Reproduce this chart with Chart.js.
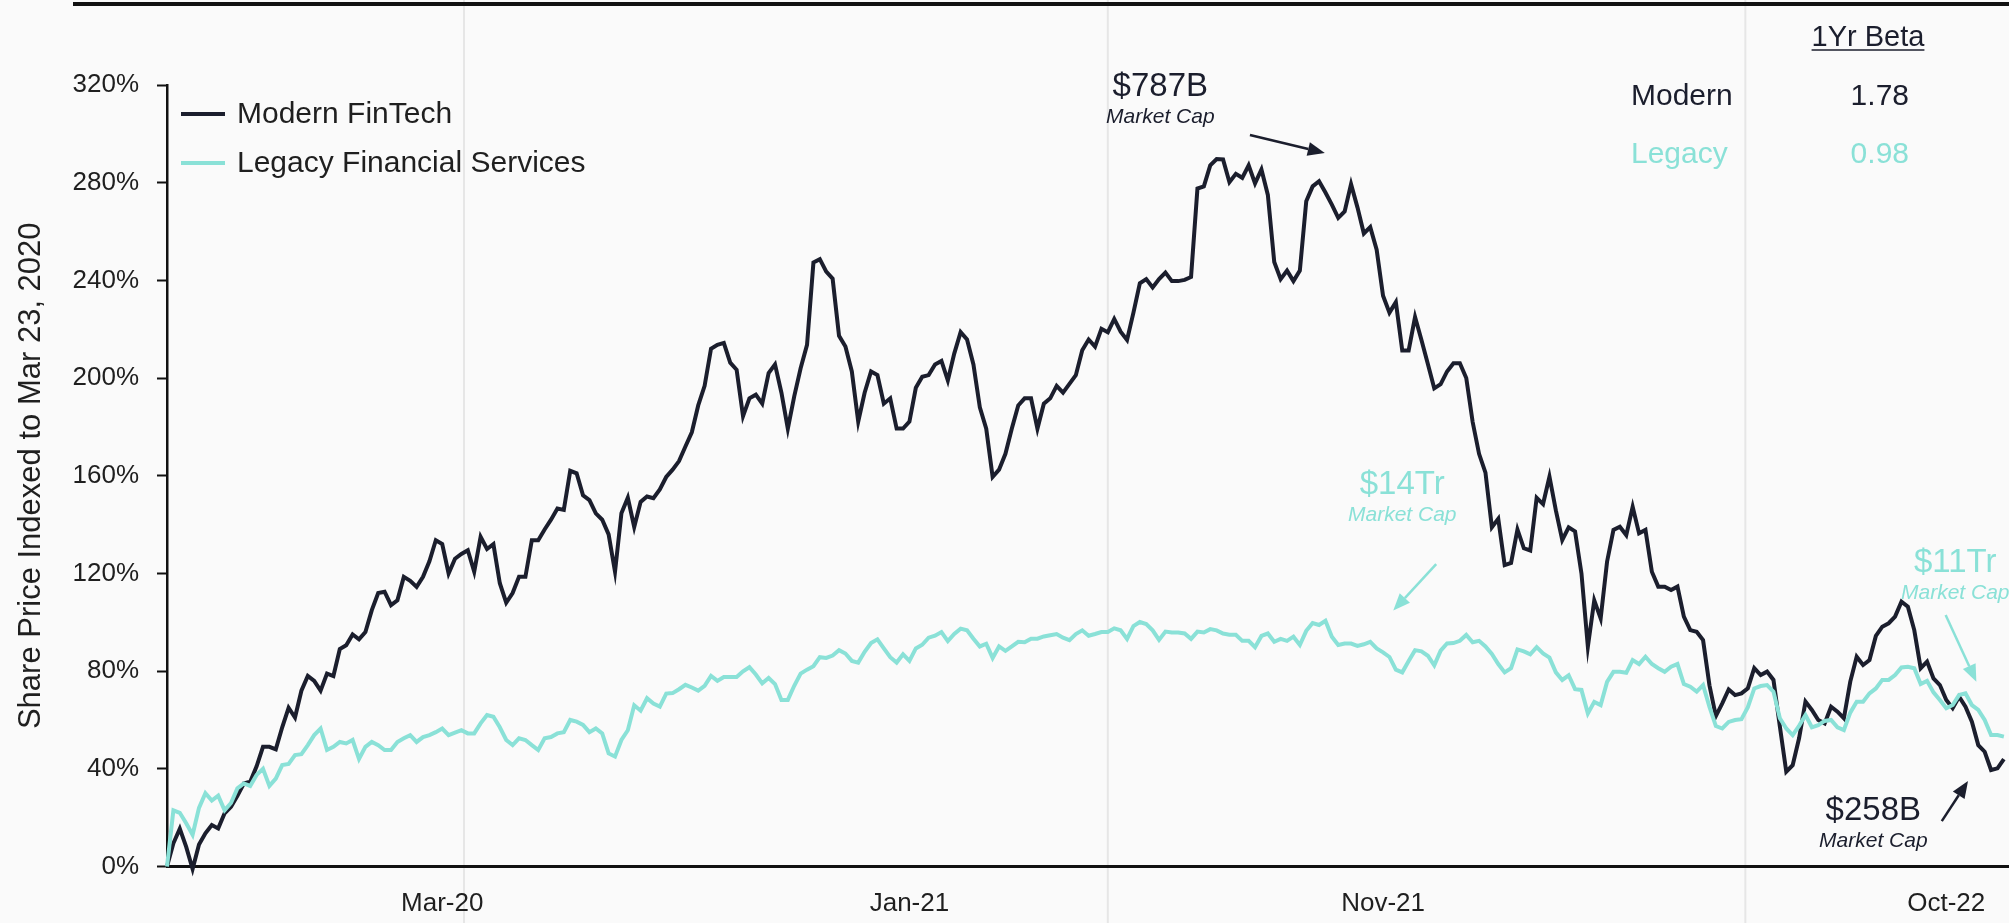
<!DOCTYPE html>
<html>
<head>
<meta charset="utf-8">
<title>Modern FinTech vs Legacy Financial Services</title>
<script src="https://cdn.jsdelivr.net/npm/chart.js@4.4.0/dist/chart.umd.min.js"></script>
<style>
    html, body { margin: 0; padding: 0; background: #fafafa; }
    #wrap { width: 2009px; height: 923px; position: relative; }
</style>
</head>
<body>
<div id="wrap"><canvas id="perfChart"></canvas></div>
<script>
// ================================================================
// DATA (share price indexed to Mar 23, 2020, in %)
// ================================================================

const MODERN_FINTECH = [
    0, 9.5, 15.5, 8, -1, 9, 13.6, 17, 15.6, 21.8,
    24.5, 29, 34, 34.7, 41, 49, 49, 48, 57, 65,
    61, 72, 78, 76, 72, 79, 78, 89, 90.6, 95,
    93, 96, 105, 112, 112.5, 107, 109, 118.6, 117, 114.5,
    118.6, 125, 133.6, 132, 120, 126, 128, 129.5, 120.7, 135,
    130, 132, 116, 108, 112, 118.6, 118.6, 133.6, 133.6, 138,
    142, 146.6, 146, 162, 161, 152, 150, 144.6, 142, 136,
    120.7, 144.6, 151, 139, 149.3, 151.5, 150.8, 154.4, 159.5, 162.5,
    166, 172, 177.8, 188.8, 196.8, 212, 213.6, 214.4, 206.3, 203.4,
    184.4, 191.7, 193.2, 189.5, 202, 205.6, 194, 179.3, 192.5, 204,
    213.6, 247.3, 248.7, 243.6, 240.7, 217.3, 212.9, 202.7, 182.2, 194,
    202.7, 201.2, 189.5, 191.7, 179.3, 179.3, 182.2, 196, 200.5, 201.2,
    205.6, 207, 199, 210, 218.8, 215.8, 205.6, 188, 179.3, 159.5,
    162.5, 169, 179.3, 188.8, 191.7, 191.7, 179.3, 189.5, 191.7, 196.8,
    194, 197.6, 201.2, 211.4, 215.8, 212.9, 220.2, 218.8, 224.2, 219,
    215.6, 226.8, 238.8, 240.5, 237.1, 240.5, 243.2, 239.7, 239.7, 240.2,
    241.4, 277.6, 278.5, 287.1, 289.7, 289.5, 280.2, 283.6, 282, 287.1,
    279.7, 285.4, 275, 247.5, 240.5, 244, 239.7, 244, 272.4, 278.5,
    280.6, 276, 271, 265.6, 268.2, 279.4, 269.9, 259.2, 261.8, 252.6,
    233.7, 226.8, 231.1, 211.3, 211.3, 225, 215.6, 205.8, 195.8, 197.5,
    202.7, 206.1, 206.1, 200, 182, 169, 161.3, 138.9, 142.4, 123.4,
    124.3, 138, 130.3, 129.4, 151, 148.4, 159.6, 145.8, 133.7, 138.9,
    137.2, 120, 90, 109, 101.6, 124.8, 137.8, 139.1, 135.7, 147.3,
    136.4, 137.8, 120.7, 114.6, 114.6, 113.2, 114.6, 102.3, 96.8, 96.1,
    92.7, 74.2, 61.6, 66.8, 72.5, 70.2, 70.9, 73, 81.2, 78.4,
    79.8, 76.4, 57.3, 38.8, 41.5, 52.5, 67.5, 64.1, 60, 58.6,
    65.4, 63.4, 60.7, 75.7, 85.9, 82.5, 84.5, 94.4, 98.2, 99.6,
    102.3, 108.4, 106.4, 96.8, 81.2, 83.9, 77, 74.3, 68.2, 64.8,
    69.5, 65.4, 59.3, 49.7, 47, 39.5, 40.2, 44
];

const LEGACY_FINSERV = [
    0, 23, 22, 17.7, 13, 24, 30, 27, 29, 23,
    26, 32, 34, 33, 37.5, 40, 33, 36, 41.5, 42,
    45.6, 46, 49.7, 53.8, 56.5, 47.7, 49, 51, 50.4, 51.8,
    44, 49, 51, 49.7, 47.7, 47.7, 51, 52.5, 53.8, 51,
    53, 53.8, 55, 56.5, 53.8, 54.8, 55.8, 54.5, 54.5, 58.6,
    62, 61.3, 57, 51.8, 49.7, 52.5, 51.8, 49.7, 47.7, 52.5,
    53, 54.5, 55, 60, 59.3, 58, 55, 56.5, 54.5, 46.3,
    45, 51.8, 55.8, 66, 63.8, 68.9, 66.7, 65.5, 70.8, 71,
    72.6, 74.4, 73.3, 72, 74, 78, 76, 77.6, 77.6, 77.6,
    79.9, 81.6, 78.6, 75, 77.2, 74.7, 68.2, 68.2, 74, 79,
    80.6, 82, 85.7, 85.4, 86.4, 88.6, 87.2, 84.2, 83.5, 87.9,
    91.5, 93, 89.3, 85.7, 83.5, 86.9, 84.2, 89.3, 90.8, 93.7,
    94.5, 96, 92.3, 95.2, 97.4, 96.7, 93.3, 90.1, 91.2, 85.4,
    90.1, 88.3, 90.1, 92, 91.8, 93.3, 93.3, 94.2, 94.7, 95.2,
    93.7, 92.7, 95.2, 96.7, 94.5, 95.2, 96, 96, 97.5, 96.7,
    93.2, 98.4, 100.1, 99.3, 96.7, 92.8, 96.2, 95.8, 95.8, 95.4,
    93.2, 96.2, 95.8, 97.2, 96.7, 95.4, 94.9, 94.9, 92.4, 92.4,
    89.8, 94.4, 95.4, 92, 93.2, 92.4, 94.1, 90.7, 96.5, 99.7,
    98.9, 100.6, 94.1, 90.7, 91.3, 91.3, 90.3, 91, 92, 89.3,
    87.7, 85.8, 80.6, 79.5, 84.1, 88.6, 88.1, 86.3, 82.4, 88.4,
    91.3, 91.5, 92.4, 94.8, 91.8, 92.4, 90.1, 87, 82.9, 79.5,
    81.2, 88.9, 88.1, 86.9, 89.8, 87.2, 85.5, 79.5, 76.4, 78.3,
    72.6, 72.3, 62.7, 67.4, 66.1, 75.6, 79.7, 79.7, 79.3, 84.5,
    82.9, 85.9, 82.9, 81.2, 79.7, 81.8, 82.9, 74.7, 73.6, 71.6,
    74.3, 65.4, 57.5, 56.5, 59.2, 60, 60.3, 65.2, 72.9, 73.9,
    74.3, 71.6, 60.7, 56.5, 53.8, 57.6, 62, 57, 57.9, 59.6,
    60, 57, 55.9, 63, 67.5, 67.5, 70.9, 72.9, 76.4, 76.4,
    78.4, 81.5, 81.8, 81.2, 74.7, 76, 71.3, 68.2, 64.8, 66.1,
    70.2, 70.9, 66.1, 64.1, 60, 53.8, 53.8, 53.2
];

// x positions are trading-day steps along the series
const X_TICK_POS = [43, 116, 190, 278];
const X_TICK_LABELS = ['Mar-20', 'Jan-21', 'Nov-21', 'Oct-22'];
const X_GRID_POS = [46.4, 147, 246.6];
const Y_TICKS = [0, 40, 80, 120, 160, 200, 240, 280, 320];

const BETA_TITLE = '1Yr Beta';
const BETA_NAMES = ['Modern', 'Legacy'];
const BETA_VALUES = ['1.78', '0.98'];

// ================================================================
// STYLE
// ================================================================

const DARK = '#1b1e2d';
const TEAL = '#8ae1d7';
const INK = '#1f1f1f';
const FONT = '"Liberation Sans", Arial, sans-serif';
const NARROW = '"Liberation Sans Narrow", "Liberation Sans", sans-serif';

function fontAvailable(name) {
    const c = document.createElement('canvas').getContext('2d');
    c.font = '40px monospace';
    const a = c.measureText('Mar-20 320%').width;
    c.font = `40px "${name}", monospace`;
    return c.measureText('Mar-20 320%').width !== a;
}

const TICK_FONT = fontAvailable('Liberation Sans Narrow')
    ? { family: NARROW, size: 31 }
    : { family: FONT, size: 26 };

// callouts anchored in data units: [step, %]
const CALLOUTS = [
    { value: '$787B', color: DARK, at: [155.2, 315.4], arrow: [[169.2, 299.5], [180.9, 292.2]] },
    { value: '$14Tr', color: TEAL, at: [193.0, 152.7], arrow: [[198.3, 123.8], [191.6, 104.8]] },
    { value: '$11Tr', color: TEAL, at: [279.4, 120.7], arrow: [[277.9, 103.0], [282.7, 75.7]] },
    { value: '$258B', color: DARK, at: [266.6, 19.0], arrow: [[277.3, 18.6], [281.4, 35.0]] }
];

// ================================================================
// PLUGINS
// ================================================================

const backdrop = {
    id: 'backdrop',
    beforeDraw(chart) {
        const { ctx, width, height, scales } = chart;
        ctx.save();
        ctx.fillStyle = '#fafafa';
        ctx.fillRect(0, 0, width, height);
        ctx.strokeStyle = '#e6e6e6';
        ctx.lineWidth = 2;
        X_GRID_POS.forEach(v => {
            const x = scales.x.getPixelForValue(v);
            ctx.beginPath();
            ctx.moveTo(x, 0);
            ctx.lineTo(x, height);
            ctx.stroke();
        });
        ctx.restore();
    }
};

function drawArrow(ctx, x1, y1, x2, y2, color) {
    const ang = Math.atan2(y2 - y1, x2 - x1);
    const len = 17, half = 7;
    const bx = x2 - len * Math.cos(ang), by = y2 - len * Math.sin(ang);
    ctx.strokeStyle = color;
    ctx.fillStyle = color;
    ctx.lineWidth = 2.5;
    ctx.beginPath();
    ctx.moveTo(x1, y1);
    ctx.lineTo(bx, by);
    ctx.stroke();
    ctx.beginPath();
    ctx.moveTo(x2, y2);
    ctx.lineTo(bx + half * Math.sin(ang), by - half * Math.cos(ang));
    ctx.lineTo(bx - half * Math.sin(ang), by + half * Math.cos(ang));
    ctx.closePath();
    ctx.fill();
}

const decorations = {
    id: 'decorations',
    afterDraw(chart) {
        const { ctx, scales, width } = chart;
        const px = v => scales.x.getPixelForValue(v);
        const py = v => scales.y.getPixelForValue(v);
        ctx.save();

        // top rule
        ctx.strokeStyle = '#111';
        ctx.lineWidth = 4;
        ctx.beginPath();
        ctx.moveTo(73, 4);
        ctx.lineTo(width, 4);
        ctx.stroke();

        // legend inside plot
        chart.data.datasets.forEach((ds, i) => {
            const y = 114 + i * 49;
            ctx.strokeStyle = ds.borderColor;
            ctx.lineWidth = 4;
            ctx.beginPath();
            ctx.moveTo(181, y);
            ctx.lineTo(225, y);
            ctx.stroke();
            ctx.fillStyle = INK;
            ctx.font = `30px ${FONT}`;
            ctx.textAlign = 'left';
            ctx.textBaseline = 'middle';
            ctx.fillText(ds.label, 237, y + 1);
        });

        // market cap callouts
        ctx.textAlign = 'center';
        ctx.textBaseline = 'alphabetic';
        CALLOUTS.forEach(c => {
            const x = px(c.at[0]), y = py(c.at[1]);
            ctx.fillStyle = c.color;
            ctx.font = `33px ${FONT}`;
            ctx.fillText(c.value, x, y);
            ctx.font = `italic 21px ${FONT}`;
            ctx.fillText('Market Cap', x, y + 27);
            const [a, b] = c.arrow;
            drawArrow(ctx, px(a[0]), py(a[1]), px(b[0]), py(b[1]), c.color);
        });

        // beta table
        ctx.fillStyle = DARK;
        ctx.font = `29px ${FONT}`;
        ctx.textAlign = 'center';
        ctx.fillText(BETA_TITLE, 1868, 46);
        const tw = ctx.measureText(BETA_TITLE).width;
        ctx.strokeStyle = DARK;
        ctx.lineWidth = 1.5;
        ctx.beginPath();
        ctx.moveTo(1868 - tw / 2, 50);
        ctx.lineTo(1868 + tw / 2, 50);
        ctx.stroke();
        ctx.font = `30px ${FONT}`;
        [DARK, TEAL].forEach((color, i) => {
            const y = 105 + i * 58;
            ctx.fillStyle = color;
            ctx.textAlign = 'left';
            ctx.fillText(BETA_NAMES[i], 1631, y);
            ctx.textAlign = 'right';
            ctx.fillText(BETA_VALUES[i], 1909, y);
        });

        ctx.restore();
    }
};

// ================================================================
// CHART
// ================================================================

const steps = MODERN_FINTECH.map((_, i) => i);

new Chart(document.getElementById('perfChart'), {
    type: 'line',
    data: {
        labels: steps,
        datasets: [{
            label: 'Modern FinTech',
            data: MODERN_FINTECH,
            borderColor: DARK,
            borderWidth: 4,
            pointRadius: 0,
            tension: 0,
            clip: false,
            order: 1
        }, {
            label: 'Legacy Financial Services',
            data: LEGACY_FINSERV,
            borderColor: TEAL,
            borderWidth: 4,
            pointRadius: 0,
            tension: 0,
            clip: false,
            order: 0
        }]
    },
    options: {
        responsive: true,
        maintainAspectRatio: false,
        animation: false,
        layout: { padding: { top: 85, left: 0, right: 0, bottom: 0 } },
        plugins: {
            legend: { display: false },
            tooltip: { enabled: false }
        },
        scales: {
            x: {
                type: 'linear',
                min: 0,
                max: 287.8,
                afterBuildTicks: s => { s.ticks = X_TICK_POS.map(v => ({ value: v })); },
                afterFit: s => { s.height = 56.5; },
                ticks: {
                    autoSkip: false,
                    maxRotation: 0,
                    padding: 22,
                    color: INK,
                    font: TICK_FONT,
                    callback: (v, i) => X_TICK_LABELS[i]
                },
                grid: { display: false, drawTicks: false },
                border: { display: true, color: '#111', width: 3 }
            },
            y: {
                min: 0,
                max: 320,
                afterBuildTicks: s => { s.ticks = Y_TICKS.map(v => ({ value: v })); },
                afterFit: s => { s.width = 167; },
                ticks: {
                    padding: 18,
                    color: INK,
                    font: TICK_FONT,
                    callback: v => v + '%'
                },
                grid: {
                    drawOnChartArea: false,
                    drawTicks: true,
                    tickLength: 10,
                    tickColor: '#111',
                    tickWidth: 2
                },
                border: { display: true, color: '#111', width: 2.5 },
                title: {
                    display: true,
                    text: 'Share Price Indexed to Mar 23, 2020',
                    color: INK,
                    font: { family: FONT, size: 31 },
                    padding: { top: 13, bottom: 0 }
                }
            }
        }
    },
    plugins: [backdrop, decorations]
});
</script>
</body>
</html>
